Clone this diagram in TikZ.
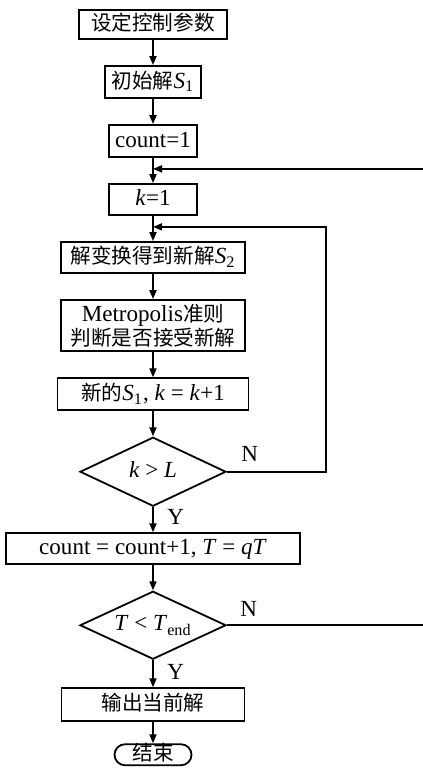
\documentclass[tikz,border=0pt]{standalone}
\usepackage{fontspec}
\setmainfont{Liberation Serif}[Scale=1.12]
\newfontfamily\cjk{Noto Sans CJK SC}
\usetikzlibrary{arrows.meta,positioning,shapes.geometric}
\newcommand{\zh}[1]{{\cjk #1}}
\newcommand{\ivar}[1]{\textit{#1}}

\begin{document}
\begin{tikzpicture}[node distance = 12.6pt, line width=0.9pt,
  >={Triangle[length=4.5pt,width=3.5pt]},
  plainbox/.style={draw, rectangle, inner sep=2pt,
    font=\fontsize{10.3}{11}\selectfont},
  box/.style={plainbox, minimum height=16pt,
    text height=7.5pt, text depth=1.5pt},
  test/.style={draw, diamond, aspect=2.1, minimum width=73pt, minimum height=34.5pt,
    inner sep=0pt, text height=7pt, text depth=1.5pt,
    font=\fontsize{10.3}{11}\selectfont},
  lbl/.style={font=\fontsize{10.3}{11}\selectfont}]
\useasboundingbox (0,0) rectangle (211.5pt,-386.5pt);

\node[box,minimum width=74pt,minimum height=14.5pt] (param) at (76.5pt,-12.25pt) {\zh{设定控制参数}};
\node[box,minimum width=48pt] (init) [below = of param] {\zh{初始解}\ivar{S}\textsubscript{1}};
\node[box,minimum width=44pt] (count) [below = of init] {count=1};
\node[box,minimum width=44pt,minimum height=15.5pt] (kone) [below = of count] {\ivar{k}=1};
\node[box,minimum width=92pt,minimum height=15.5pt] (trans) [below = of kone] {\zh{解变换得到新解}\ivar{S}\textsubscript{2}};
\node[plainbox,minimum width=92pt,minimum height=25.5pt,align=center] (metro) [below = of trans] {Metropolis\zh{准则}\\\zh{判断是否接受新解}};
\node[box,minimum width=95.5pt] (update) [below = of metro] {\zh{新的}\ivar{S}\textsubscript{1}, \ivar{k} = \ivar{k}+1};
\node[test] (checkL) [below = of update] {\ivar{k} > \ivar{L}};
\node[box,minimum width=147pt,minimum height=15.5pt] (cool) [below = of checkL] {count = count+1, \ivar{T} = \ivar{q}\ivar{T}};
\node[test,minimum height=34pt] (checkT) [below = of cool] {\ivar{T} < \ivar{T}\textsubscript{end}};
\node[box,minimum width=91.5pt,minimum height=16.5pt] (output) [below = 13.6pt of checkT] {\zh{输出当前解}};
\node[box,rounded corners=5.25pt,minimum width=38.5pt,minimum height=10.5pt,inner sep=0pt,text height=7pt,text depth=1pt] (stop) [below = 10.6pt of output] {\zh{结束}};

\coordinate (outerjoin) at ([yshift=-5.5pt]count.south);
\coordinate (innerjoin) at ([yshift=-5.5pt]kone.south);

\path[->] (param) edge (init)
    (init) edge (count)
    (count) edge (kone)
    (kone) edge (trans)
    (trans) edge (metro)
    (metro) edge (update)
    (update) edge (checkL)
    (checkL) edge node[lbl,right,xshift=3pt,pos=0.4] {Y} (cool)
    (cool) edge (checkT)
    (checkT) edge node[lbl,right,xshift=3pt,pos=0.45] {Y} (output)
    (output) edge (stop);

\draw[->] (checkL.east) -- ++(49.5pt,0) |- (innerjoin);
\draw[->] (checkT.east) -- ++(100pt,0) |- (outerjoin);
\node[lbl,above right,xshift=3pt,yshift=1pt] (nL) at (checkL.east) {N};
\node[lbl,above right,xshift=2.5pt] (nT) at (checkT.east) {N};
\end{tikzpicture}
\end{document}
